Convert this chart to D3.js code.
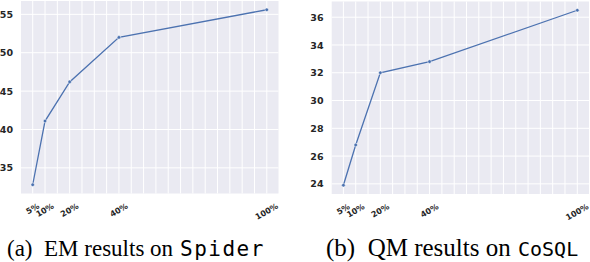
<!DOCTYPE html>
<html lang="en">
<head>
  <meta charset="utf-8">
  <title>EM / QM results</title>
  <style>
    body { margin: 0; background: #fff; }
    svg { display: block; }
    .tick-y { font: bold 9.5px "DejaVu Sans", sans-serif; fill: #262626; }
    .tick-x { font: bold 8px "DejaVu Sans", sans-serif; fill: #262626; }
    .cap { font-family: "Liberation Serif", "DejaVu Serif", serif; fill: #000; }
    .mono { font-family: "DejaVu Sans Mono", monospace; }
  </style>
</head>
<body>
  <svg id="chart" width="590" height="262"></svg>

  <script src="https://d3js.org/d3.v7.min.js"></script>
  <script>

// data
let percents = [5, 10, 20, 40, 100]
let xTickLabels = ["5%", "10%", "20%", "40%", "100%"]
let spiderEM = [32.8, 41.1, 46.2, 52.0, 55.6]
let cosqlQM = [23.9, 26.8, 32.0, 32.8, 36.5]
let emTicks = [35, 40, 45, 50, 55]
let qmTicks = [24, 26, 28, 30, 32, 34, 36]
let xGrid = d3.range(5, 101, 5)

let svg = d3.select("#chart")

function pad(ext) {
  // matplotlib style 5% margins
  let m = (ext[1] - ext[0]) * 0.05
  return [ext[0] - m, ext[1] + m]
}

function drawPanel(box, values, yTicks, caption) {
  let x = d3.scaleLinear().domain(pad(d3.extent(percents))).range([box.left, box.right])
  let y = d3.scaleLinear().domain(pad(d3.extent(values))).range([box.bottom, box.top])

  let g = svg.append("g")

  g.append("rect")
    .attr("x", box.left).attr("y", box.top)
    .attr("width", box.right - box.left).attr("height", box.bottom - box.top)
    .attr("fill", "#eaeaf2")

  g.selectAll("line.vg").data(xGrid)
    .enter().append("line")
      .attr("x1", d => x(d)).attr("x2", d => x(d))
      .attr("y1", box.top).attr("y2", box.bottom)
      .attr("stroke", "#fff").attr("stroke-width", 1)

  g.selectAll("line.hg").data(yTicks)
    .enter().append("line")
      .attr("y1", d => y(d)).attr("y2", d => y(d))
      .attr("x1", box.left).attr("x2", box.right)
      .attr("stroke", "#fff").attr("stroke-width", 1)

  // y axis labels
  let yAxis = d3.axisLeft(y).tickValues(yTicks).tickSize(0).tickPadding(box.left - box.labelRight)
  let ya = g.append("g").attr("transform", "translate(" + box.left + ",0)").call(yAxis)
  ya.select(".domain").remove()
  ya.attr("font-family", null).attr("font-size", null)
  ya.selectAll("text").attr("class", "tick-y").attr("fill", null)

  // rotated x labels, box top just under the plot
  let top = box.bottom + 9
  percents.forEach(function(p, i) {
    let t = g.append("text")
      .attr("class", "tick-x")
      .attr("text-anchor", "middle")
      .attr("dominant-baseline", "central")
      .text(xTickLabels[i])
    let w = t.node().getComputedTextLength()
    let h = 7
    let a = Math.PI / 6
    let ext = w * Math.sin(a) + h * Math.cos(a)
    t.attr("transform", "translate(" + x(p) + "," + (top + ext / 2) + ") rotate(-30)")
  })

  let line = d3.line().x((d, i) => x(percents[i])).y(d => y(d))
  g.append("path")
    .datum(values)
    .attr("d", line)
    .attr("fill", "none")
    .attr("stroke", "#4c72b0")
    .attr("stroke-width", 1.3)

  g.selectAll("circle").data(values)
    .enter().append("circle")
      .attr("cx", (d, i) => x(percents[i]))
      .attr("cy", d => y(d))
      .attr("r", 1.8)
      .attr("fill", "#4c72b0")
      .attr("stroke", "#fff")
      .attr("stroke-width", 0.5)

  let cap = g.append("text").attr("class", "cap")
    .attr("x", caption.x).attr("y", 256)
    .attr("font-size", caption.size)
  cap.append("tspan").text(caption.label)
  cap.append("tspan").attr("class", "mono")
    .attr("x", caption.monoX)
    .attr("font-size", caption.monoSize)
    .attr("letter-spacing", caption.spacing)
    .text(caption.mono)
}

drawPanel({left: 21, right: 278.5, top: 1, bottom: 193.5, labelRight: 13},
  spiderEM, emTicks,
  {x: 7, size: 23, label: "(a)\u00a0\u00a0EM results on", mono: "Spider", monoX: 180, monoSize: 21, spacing: 1.5})

drawPanel({left: 331.7, right: 589, top: 1.5, bottom: 194, labelRight: 323.5},
  cosqlQM, qmTicks,
  {x: 326, size: 25, label: "(b)\u00a0\u00a0QM results on", mono: "CoSQL", monoX: 518, monoSize: 20, spacing: 0})

  </script>
</body>
</html>
